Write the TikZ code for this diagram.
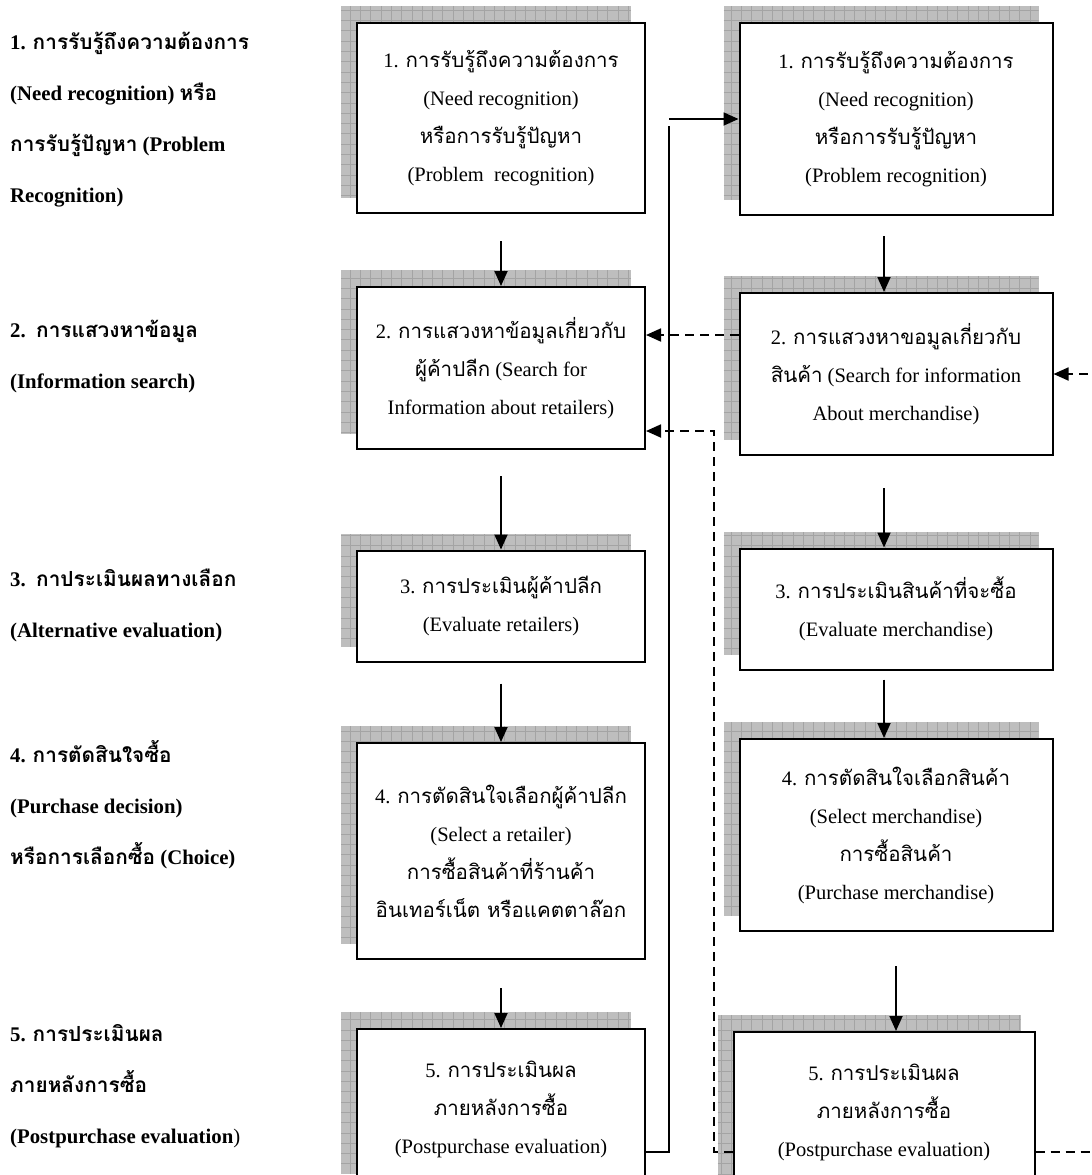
\documentclass[tikz,border=0pt]{standalone}
\usepackage{fontspec}
\setmainfont{Liberation Serif}
\newfontfamily\thaifont[Script=Thai]{Loma}
\newcommand{\tha}[1]{{\thaifont #1}}
\newcommand{\stagefont}{\fontsize{20.5}{38}\selectfont}
\newcommand{\phasefont}{\fontsize{20.8}{51}\selectfont\bfseries}
\usetikzlibrary{arrows.meta,calc,backgrounds}
\definecolor{shadefill}{HTML}{BEBEBE}
\definecolor{shadegrid}{HTML}{A4A4A4}
\tikzset{
  stage/.style={draw, line width=2pt, fill=white, inner sep=0pt, align=center, font=\stagefont},
  phase/.style={anchor=west, align=left, inner sep=0pt, font=\phasefont},
  link/.style={line width=1.8pt},
  arr/.style={line width=1.8pt, -{Triangle[length=15pt,width=13pt]}},
  darr/.style={line width=1.8pt, dash pattern=on 9pt off 6pt, -{Triangle[length=15pt,width=13pt]}},
}
\begin{document}
\begin{tikzpicture}[x=1pt,y=-1pt]
\useasboundingbox (0,0) rectangle (1092,1175);
%
% stages, left column
\node[phase] (P1) at (10,120) {1. \tha{การรับรู้ถึงความต้องการ}\\(Need recognition) \tha{หรือ}\\\tha{การรับรู้ปัญหา} (Problem\\Recognition)};
\node[phase] (P2) at (10,357) {2.\ \ \tha{การแสวงหาข้อมูล}\\(Information search)};
\node[phase] (P3) at (10,605) {3.\ \ \tha{กาประเมินผลทางเลือก}\\(Alternative evaluation)};
\node[phase] (P4) at (10,805) {4. \tha{การตัดสินใจซื้อ}\\(Purchase decision)\\\tha{หรือการเลือกซื้อ} (Choice)};
\node[phase] (P5) at (10,1086) {5. \tha{การประเมินผล}\\\tha{ภายหลังการซื้อ}\\(Postpurchase evaluation{\mdseries)}};
%
% retailer boxes
\node[stage, minimum width=288pt, minimum height=190pt] (A1) at (501,118) {1. \tha{การรับรู้ถึงความต้องการ}\\(Need recognition)\\\tha{หรือการรับรู้ปัญหา}\\(Problem\ \ recognition)};
\node[stage, minimum width=288pt, minimum height=162pt] (A2) at (501,368) {2. \tha{การแสวงหาข้อมูลเกี่ยวกับ}\\\tha{ผู้ค้าปลีก} (Search for\\Information about retailers)};
\node[stage, minimum width=288pt, minimum height=111pt] (A3) at (501,606) {3. \tha{การประเมินผู้ค้าปลีก}\\(Evaluate retailers)};
\node[stage, minimum width=288pt, minimum height=216pt] (A4) at (501,851) {4. \tha{การตัดสินใจเลือกผู้ค้าปลีก}\\(Select a retailer)\\\tha{การซื้อสินค้าที่ร้านค้า}\\\tha{อินเทอร์เน็ต หรือแคตตาล๊อก}};
\node[stage, minimum width=288pt, minimum height=160pt] (A5) at (501,1109) {5. \tha{การประเมินผล}\\\tha{ภายหลังการซื้อ}\\(Postpurchase evaluation)};
%
% merchandise boxes
\node[stage, minimum width=313pt, minimum height=192pt] (B1) at (896,119) {1. \tha{การรับรู้ถึงความต้องการ}\\(Need recognition)\\\tha{หรือการรับรู้ปัญหา}\\(Problem recognition)};
\node[stage, minimum width=313pt, minimum height=162pt] (B2) at (896,374) {2. \tha{การแสวงหาขอมูลเกี่ยวกับ}\\\tha{สินค้า} (Search for information\\About merchandise)};
\node[stage, minimum width=313pt, minimum height=121pt] (B3) at (896,609) {3. \tha{การประเมินสินค้าที่จะซื้อ}\\(Evaluate merchandise)};
\node[stage, minimum width=313pt, minimum height=192pt] (B4) at (896,835) {4. \tha{การตัดสินใจเลือกสินค้า}\\(Select merchandise)\\\tha{การซื้อสินค้า}\\(Purchase merchandise)};
\node[stage, minimum width=301pt, minimum height=160pt] (B5) at (884,1112) {5. \tha{การประเมินผล}\\\tha{ภายหลังการซื้อ}\\(Postpurchase evaluation)};
%
% grey shadows
\begin{scope}[on background layer]
\foreach \b in {A1,A2,A3,A4,A5,B1,B2,B3,B4,B5}{
  \path[fill=shadefill] ($(\b.north west)+(-15,-16)$) rectangle ($(\b.south east)+(-15,-16)$);
  \begin{scope}
    \clip ($(\b.north west)+(-15,-16)$) rectangle ($(\b.south east)+(-15,-16)$);
    \draw[shadegrid, line width=1pt, step=10.3pt] ($(\b.north west)+(-15,-16)$) grid ($(\b.south east)+(-15,-16)$);
  \end{scope}
}
\end{scope}
%
% down arrows
\draw[arr, shorten <=27pt] (A1) to (A2);
\draw[arr, shorten <=26pt] (A2) to (A3);
\draw[arr, shorten <=21pt] (A3) to (A4);
\draw[arr, shorten <=28pt] (A4) to (A5);
\draw[arr, shorten <=20pt] ([xshift=-12pt]B1.south) to ([xshift=-12pt]B2.north);
\draw[arr, shorten <=32pt] ([xshift=-12pt]B2.south) to ([xshift=-12pt]B3.north);
\draw[arr, shorten <=9pt] ([xshift=-12pt]B3.south) to ([xshift=-12pt]B4.north);
\draw[arr, shorten <=34pt] (B4.south) to (B4.south |- B5.north);
%
% back to need recognition
\coordinate (spine) at (669,126);
\draw[link] ($(A5.east)+(0,43)$) -| (spine);
\draw[arr] (spine |- B1.west) to (B1.west);
%
% dashed feedback
\coordinate (backL) at (714,431);
\coordinate (backR) at (1130,374);
\draw[darr] ($(B2.west)+(0,-39)$) coordinate (d1) to (d1 -| A2.east);
\draw[darr] ($(B5.west)+(0,40)$) -| (backL) to (backL -| A2.east);
\draw[darr] ($(B5.east)+(0,40)$) -| (backR) to (B2.east);
%
\end{tikzpicture}
\end{document}
